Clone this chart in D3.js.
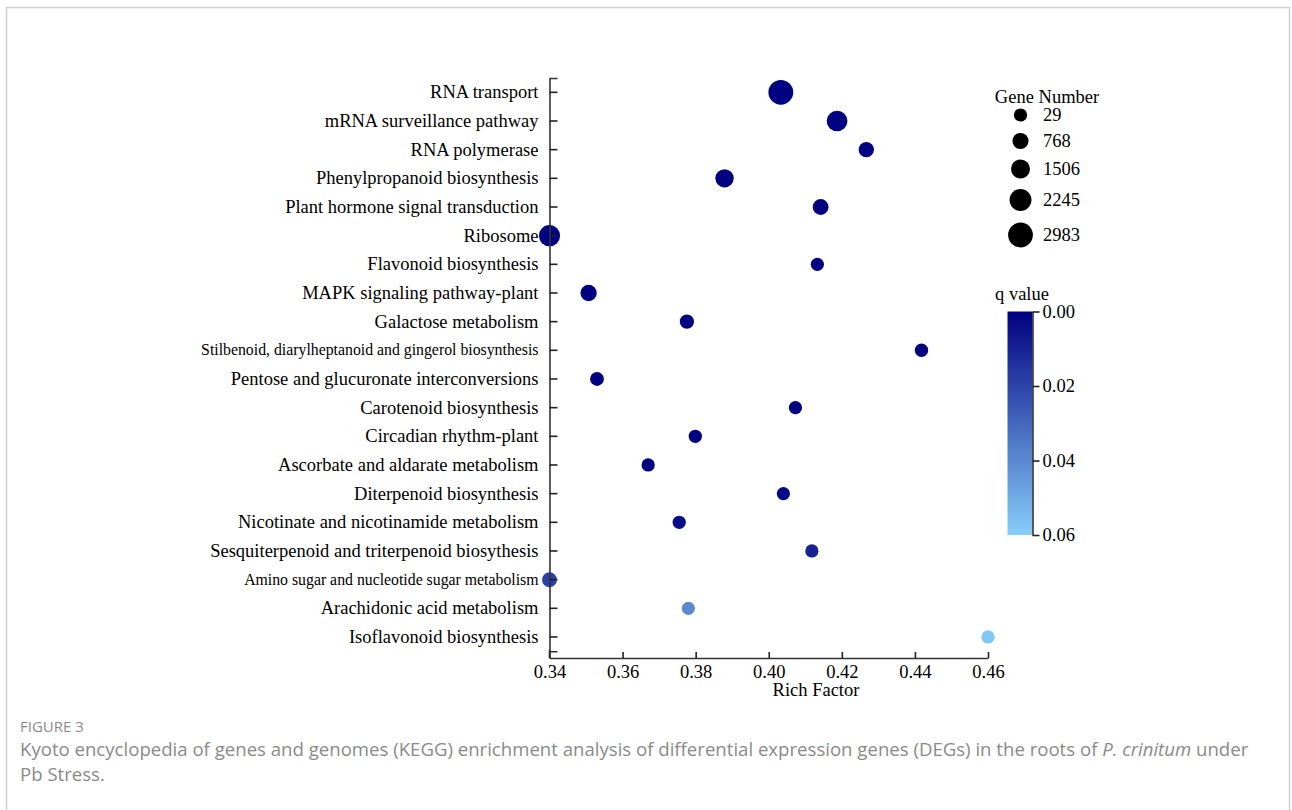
<!DOCTYPE html>
<html>
<head>
<meta charset="utf-8">
<script src="https://cdn.jsdelivr.net/npm/d3@7"></script>
<style>
  html, body { margin: 0; padding: 0; background: #fff; }
  svg { display: block; }
</style>
</head>
<body>
<svg id="chart" width="1292" height="810"></svg>
<script>
const categories = [
  "RNA transport",
  "mRNA surveillance pathway",
  "RNA polymerase",
  "Phenylpropanoid biosynthesis",
  "Plant hormone signal transduction",
  "Ribosome",
  "Flavonoid biosynthesis",
  "MAPK signaling pathway-plant",
  "Galactose metabolism",
  "Stilbenoid, diarylheptanoid and gingerol biosynthesis",
  "Pentose and glucuronate interconversions",
  "Carotenoid biosynthesis",
  "Circadian rhythm-plant",
  "Ascorbate and aldarate metabolism",
  "Diterpenoid biosynthesis",
  "Nicotinate and nicotinamide metabolism",
  "Sesquiterpenoid and triterpenoid biosythesis",
  "Amino sugar and nucleotide sugar metabolism",
  "Arachidonic acid metabolism",
  "Isoflavonoid biosynthesis"
];
const smallLabels = [
  "Stilbenoid, diarylheptanoid and gingerol biosynthesis",
  "Amino sugar and nucleotide sugar metabolism"
];
const richFactor = [0.4033, 0.4187, 0.4267, 0.3879, 0.4142, 0.3400, 0.4133, 0.3507, 0.3776, 0.4418,
                    0.3530, 0.4073, 0.3799, 0.3670, 0.4040, 0.3755, 0.4118, 0.3400, 0.3780, 0.4600];
const geneNumber = [2983, 1950, 560, 1350, 710, 2050, 40, 820, 290, 80,
                    190, 50, 50, 50, 35, 45, 30, 450, 32, 29];
const qValue = [0.000, 0.000, 0.000, 0.000, 0.000, 0.000, 0.000, 0.000, 0.000, 0.000,
                0.000, 0.000, 0.000, 0.001, 0.003, 0.004, 0.010, 0.019, 0.040, 0.058];
const xTicks = [0.34, 0.36, 0.38, 0.40, 0.42, 0.44, 0.46];
const sizeLegend = [29, 768, 1506, 2245, 2983];
const qTicks = [0.00, 0.02, 0.04, 0.06];

const svg = d3.select("#chart");
const serif = "'Liberation Serif', 'Times New Roman', serif";

// frame
svg.append("rect").attr("x", 6.5).attr("y", 7.5).attr("width", 1283).attr("height", 830)
  .attr("fill", "none").attr("stroke", "#d0d0d0").attr("stroke-width", 1.5);

const x = d3.scaleLinear().domain([0.34, 0.46]).range([549.5, 988]);
const y = d3.scaleBand().domain(categories).range([78, 651.3]);
const r = d3.scaleLinear().domain([29, 2983]).range([6.6, 12.4]);
const color = d3.scaleLinear().domain([0, 0.06]).range(["#000080", "#87CEFA"]).interpolate(d3.interpolateRgb);

const data = categories.map((c, i) => ({ c, rf: richFactor[i], n: geneNumber[i], q: qValue[i] }));

// dots
svg.append("g").selectAll("circle").data(data).join("circle")
  .attr("cx", d => x(d.rf))
  .attr("cy", d => y(d.c) + y.bandwidth() / 2)
  .attr("r", d => r(d.n))
  .attr("fill", d => color(d.q));

// y axis
const yAxis = svg.append("g").attr("transform", "translate(549.5,0)")
  .call(d3.axisLeft(y).tickSizeInner(-8).tickSizeOuter(-8).tickPadding(11));
yAxis.select(".domain").attr("stroke", "#333").attr("stroke-width", 1.6);
yAxis.selectAll(".tick line").attr("stroke", "#222").attr("stroke-width", 1.6);
yAxis.selectAll(".tick text")
  .attr("font-family", serif)
  .attr("font-size", d => smallLabels.includes(d) ? 15.8 : 18.5)
  .attr("fill", "#000");
svg.append("line").attr("x1", 549.5).attr("x2", 549.5).attr("y1", 650).attr("y2", 658.5)
  .attr("stroke", "#333").attr("stroke-width", 1.6);

// x axis
const xAxis = svg.append("g").attr("transform", "translate(0,658)")
  .call(d3.axisBottom(x).tickValues(xTicks).tickFormat(d3.format(".2f")).tickSizeInner(-6).tickSizeOuter(0).tickPadding(4));
xAxis.select(".domain").attr("stroke", "#333").attr("stroke-width", 1.6);
xAxis.selectAll(".tick line").attr("stroke", "#222").attr("stroke-width", 1.6);
xAxis.selectAll(".tick text").attr("font-family", serif).attr("font-size", 18.5).attr("fill", "#000").attr("dy", "0.85em");

svg.append("text").attr("x", 816).attr("y", 696).attr("text-anchor", "middle")
  .attr("font-family", serif).attr("font-size", 18.5).text("Rich Factor");

// size legend
svg.append("text").attr("x", 1047).attr("y", 103).attr("text-anchor", "middle")
  .attr("font-family", serif).attr("font-size", 18.5).text("Gene Number");
const legY = [115, 141, 169, 200, 235];
const sl = svg.append("g");
sl.selectAll("circle").data(sizeLegend).join("circle")
  .attr("cx", 1020.5).attr("cy", (d, i) => legY[i]).attr("r", d => r(d)).attr("fill", "#000");
sl.selectAll("text").data(sizeLegend).join("text")
  .attr("x", 1043).attr("y", (d, i) => legY[i]).attr("dy", "0.35em")
  .attr("font-family", serif).attr("font-size", 18.5).text(d => d);

// color bar
const defs = svg.append("defs");
const grad = defs.append("linearGradient").attr("id", "qgrad").attr("x1", 0).attr("x2", 0).attr("y1", 0).attr("y2", 1);
d3.range(0, 1.0001, 0.1).forEach(t => {
  grad.append("stop").attr("offset", t).attr("stop-color", color(t * 0.06));
});
const cbTop = 311.5, cbBot = 535;
svg.append("rect").attr("x", 1007.5).attr("y", cbTop).attr("width", 25).attr("height", cbBot - cbTop)
  .attr("fill", "url(#qgrad)");
const qScale = d3.scaleLinear().domain([0, 0.06]).range([cbTop, cbBot]);
const cAxis = svg.append("g").attr("transform", "translate(1032.5,0)")
  .call(d3.axisRight(qScale).tickValues(qTicks).tickFormat(d3.format(".2f")).tickSizeInner(7).tickSizeOuter(0).tickPadding(3));
cAxis.select(".domain").attr("stroke", "#333").attr("stroke-width", 1.6);
cAxis.selectAll(".tick line").attr("stroke", "#222").attr("stroke-width", 1.6);
cAxis.selectAll(".tick text").attr("font-family", serif).attr("font-size", 18.5).attr("fill", "#000");
svg.append("text").attr("x", 995).attr("y", 300)
  .attr("font-family", serif).attr("font-size", 18.5).text("q value");

// caption
const sans = "'Open Sans', 'Noto Sans', sans-serif";
svg.append("text").attr("x", 20).attr("y", 732).attr("font-family", sans).attr("font-size", 15)
  .attr("fill", "#8a8a8a").text("FIGURE 3");
const cap1 = svg.append("text").attr("x", 20).attr("y", 756).attr("font-family", sans).attr("font-size", 18.6)
  .attr("fill", "#8a8a8a");
cap1.append("tspan").text("Kyoto encyclopedia of genes and genomes (KEGG) enrichment analysis of differential expression genes (DEGs) in the roots of ");
cap1.append("tspan").attr("font-style", "italic").text("P. crinitum");
cap1.append("tspan").text(" under");
svg.append("text").attr("x", 20).attr("y", 781).attr("font-family", sans).attr("font-size", 18.6)
  .attr("fill", "#8a8a8a").text("Pb Stress.");
</script>
</body>
</html>
